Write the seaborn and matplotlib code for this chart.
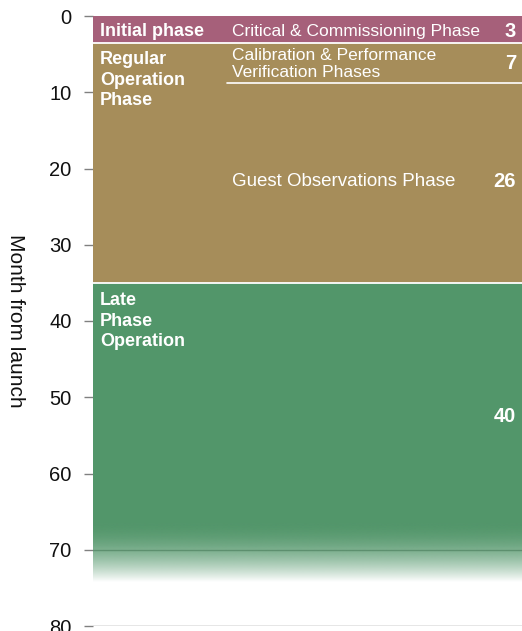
import numpy as np
import matplotlib
matplotlib.use("Agg")
import matplotlib.pyplot as plt
import seaborn as sns
from matplotlib.colors import to_rgb

# Mission timeline (months from launch)
phase_names = ["Initial phase", "Regular\nOperation\nPhase", "Late\nPhase\nOperation"]
phase_ends = [3.5, 35.0, 66.5]        # solid part of each phase
phase_colors = ["#A6607A", "#A68D5A", "#52966A"]
fade_end = 74.2                       # late phase fades out here
calib_end = 8.8                       # calibration / guest split

sub_names = ["Critical & Commissioning Phase",
             "Calibration & Performance\nVerification Phases",
             "Guest Observations Phase", ""]
sub_sizes = [12.5, 12.5, 13.5, 12.5]
sub_months = ["3", "7", "26", "40"]
sub_label_y = [2.05, 6.3, 21.7, 52.5]
month_label_y = [2.05, 6.2, 21.7, 52.5]
name_label_y = [2.05, 8.4, 40.0]

yticks = [0, 10, 20, 30, 40, 50, 60, 70, 80]

sns.set_theme(style="white")
plt.rcParams["font.family"] = ["Liberation Sans", "DejaVu Sans"]

fig = plt.figure(figsize=(5.22, 6.31), dpi=100)
ax = fig.add_axes([93 / 522, 5 / 631, 429 / 522, 610 / 631])

# stacked look: longest first, shorter ones drawn over it
for end, col in reversed(list(zip(phase_ends, phase_colors))):
    sns.barplot(x=[""], y=[end], color=col, width=1, linewidth=0,
                saturation=1, ax=ax, zorder=2)

# fade-out tail of the late phase
n = 256
t = np.linspace(0, 1, n)
rgba = np.zeros((n, 1, 4))
rgba[:, 0, :3] = to_rgb(phase_colors[2])
rgba[:, 0, 3] = 1 - t ** 1.8
ax.imshow(rgba, extent=(-0.5, 0.5, fade_end, phase_ends[2]),
          aspect="auto", interpolation="bilinear", zorder=2)

# white separators
for b in phase_ends[:2]:
    ax.axhline(b, color="white", lw=1.3, zorder=3)
ax.plot([0.312 - 0.5, 0.5], [calib_end, calib_end], color="white", lw=1.2, zorder=3)

ax.set_xlim(-0.5, 0.5)
ax.set_ylim(80, 0)
ax.set_yticks(yticks)
ax.set_xticks([])
ax.set_xlabel("")
ax.set_axisbelow(True)
ax.yaxis.grid(True, color="#808080", lw=1)
ax.xaxis.grid(False)
ax.tick_params(axis="y", left=True, length=6.5, width=1, color="#808080",
               labelsize=14.5, pad=9, labelcolor="#111111")
sns.despine(ax=ax, left=True, bottom=True)
ax.set_ylabel("Month from launch", rotation=270, fontsize=15, labelpad=31,
              color="#111111")

trans = ax.get_yaxis_transform()
for name, y in zip(phase_names, name_label_y):
    ax.text(0.016, y, name, transform=trans, color="white", fontsize=13,
            fontweight="bold", va="center", ha="left", linespacing=1.25, zorder=4)
for name, size, num, y, my in zip(sub_names, sub_sizes, sub_months,
                                  sub_label_y, month_label_y):
    if name:
        ax.text(0.324, y, name, transform=trans, color="white", fontsize=size,
                va="center", ha="left", linespacing=1.2, zorder=4)
    ax.text(0.986, my, num, transform=trans, color="white",
            fontsize=14.5, fontweight="bold", va="center", ha="right", zorder=4)

fig.savefig("out.png", dpi=100)
